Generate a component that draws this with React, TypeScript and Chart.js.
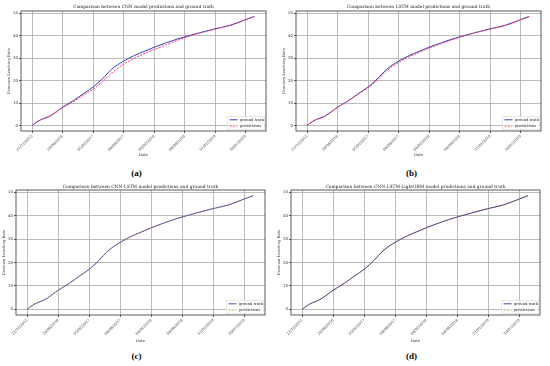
import React, { useEffect, useRef } from "react";
import { Chart, registerables } from "chart.js";
Chart.register(...registerables);

const tickLabels = ["21/12/2015", "20/06/2016", "05/02/2017", "06/08/2017", "04/02/2018", "04/08/2018", "31/01/2019", "30/07/2019"];
const tickPositions = [0, 1, 2, 3, 4, 5, 6, 7];
const yTicks = [0, 10, 20, 30, 40, 50];

const xPos = [0, 0.2, 0.6, 1.0, 1.35, 1.7, 2.0, 2.3, 2.6, 3.0, 3.35, 3.7, 4.0, 4.4, 4.75, 5.0, 5.45, 6.0, 6.5, 7.0, 7.28];
const groundTruth = [0, 2.0, 4.4, 8.2, 11.1, 14.4, 17.2, 20.8, 25.0, 28.7, 31.2, 33.2, 34.9, 36.9, 38.5, 39.5, 41.2, 43.1, 44.7, 47.2, 48.6];
const cnnPred = [0, 2.0, 4.3, 7.9, 10.7, 13.7, 16.2, 19.4, 23.3, 27.3, 30.0, 32.2, 33.9, 36.0, 37.9, 39.1, 41.0, 43.0, 44.7, 47.1, 48.6];
const lstmPred = [0, 2.0, 4.3, 8.1, 11.0, 14.2, 16.9, 20.2, 24.3, 28.1, 30.7, 32.8, 34.5, 36.5, 38.2, 39.3, 41.1, 43.0, 44.6, 47.1, 48.6];
const cnnLstmPred = [0, 2.0, 4.4, 8.2, 11.0, 14.3, 17.1, 20.7, 24.9, 28.6, 31.1, 33.1, 34.8, 36.8, 38.4, 39.5, 41.2, 43.1, 44.7, 47.2, 48.6];
const lgbmPred = [0, 2.0, 4.4, 8.2, 11.1, 14.4, 17.2, 20.8, 25.0, 28.7, 31.2, 33.2, 34.9, 36.9, 38.5, 39.5, 41.2, 43.1, 44.7, 47.2, 48.6];

const panels = [
  { key: "a", title: "Comparison between CNN model predictions and ground truth", pred: cnnPred, gtColor: "#2f3fc4", predColor: "#ff3a6a", left: 0, top: 0, padLeft: 7, plotLeft: 21, plotRight: 266, plotTop: 11, plotBottom: 131, titleCenter: 7, dateY: 155 },
  { key: "b", title: "Comparison between LSTM model predictions and ground truth", pred: lstmPred, gtColor: "#2f3fc4", predColor: "#ff3a6a", left: 275, top: 0, padLeft: 7, plotLeft: 21, plotRight: 266, plotTop: 11, plotBottom: 131, titleCenter: 7, dateY: 155 },
  { key: "c", title: "Comparison between CNN-LSTM model predictions and ground truth", pred: cnnLstmPred, gtColor: "#6a4fa6", predColor: "#c8b25a", left: 0, top: 183, padLeft: 2, plotLeft: 16, plotRight: 265, plotTop: 7, plotBottom: 132, titleCenter: 3.5, dateY: 158 },
  { key: "d", title: "Comparison between CNN-LSTM-LightGBM model predictions and ground truth", pred: lgbmPred, gtColor: "#5e3f86", predColor: "#b8a878", left: 275, top: 183, padLeft: 2, plotLeft: 16, plotRight: 265, plotTop: 7, plotBottom: 132, titleCenter: 3.5, dateY: 158 },
];

const FONT = "'DejaVu Serif', serif";
const CW = 275;
const CH = 165;

const framePlugin = {
  id: "frame",
  afterDraw(chart: any) {
    const { ctx, chartArea: a } = chart;
    ctx.save();
    ctx.strokeStyle = "#333";
    ctx.lineWidth = 0.8;
    ctx.strokeRect(a.left, a.top, a.right - a.left, a.bottom - a.top);
    ctx.restore();
  },
};

const legendPlugin = {
  id: "boxLegend",
  afterDraw(chart: any) {
    const { ctx, chartArea: a } = chart;
    const w = 37, h = 13;
    const x = a.right - w - 1.5, y = a.bottom - h - 1.5;
    ctx.save();
    ctx.fillStyle = "rgba(255,255,255,0.85)";
    ctx.strokeStyle = "#d8d8d8";
    ctx.lineWidth = 0.6;
    ctx.fillRect(x, y, w, h);
    ctx.strokeRect(x, y, w, h);
    ctx.font = `3.7px ${FONT}`;
    ctx.textBaseline = "middle";
    const ds = chart.data.datasets;
    [0, 1].forEach((i) => {
      const d = ds[i];
      const ry = y + 3.3 + i * 6.2;
      ctx.strokeStyle = d.borderColor;
      ctx.lineWidth = 1;
      ctx.setLineDash(d.borderDash || []);
      ctx.beginPath();
      ctx.moveTo(x + 2, ry);
      ctx.lineTo(x + 10, ry);
      ctx.stroke();
      ctx.setLineDash([]);
      ctx.fillStyle = "#222";
      ctx.fillText(d.label, x + 12.5, ry);
    });
    ctx.restore();
  },
};

function Panel({ p }: { p: any }) {
  const ref = useRef<HTMLCanvasElement>(null);
  useEffect(() => {
    if (!ref.current) return;
    const titleSize = 4.4;
    const titleLH = titleSize * 1.2;
    const padTop = Math.max(0, p.titleCenter - titleLH / 2);
    const padBottom = Math.max(0, p.plotTop - padTop - titleLH);
    const layoutBottom = CH - (p.dateY + 2.5);
    const chart = new Chart(ref.current, {
      type: "line",
      data: {
        datasets: [
          {
            label: "ground truth",
            data: xPos.map((x, i) => ({ x, y: groundTruth[i] })),
            borderColor: p.gtColor,
            borderWidth: 1,
            pointRadius: 0,
            cubicInterpolationMode: "monotone",
            order: 1,
          },
          {
            label: "predictions",
            data: xPos.map((x, i) => ({ x, y: p.pred[i] })),
            borderColor: p.predColor,
            borderWidth: 1,
            borderDash: [2.2, 1.2],
            pointRadius: 0,
            cubicInterpolationMode: "monotone",
            order: p.key === "a" || p.key === "b" ? 0 : 2,
          },
        ],
      },
      options: {
        responsive: false,
        animation: false,
        layout: { padding: { left: p.padLeft, right: CW - p.plotRight, top: 0, bottom: layoutBottom } },
        plugins: {
          legend: { display: false },
          tooltip: { enabled: false },
          title: {
            display: true,
            text: p.title,
            fullSize: false,
            color: "#222",
            font: { family: FONT, size: titleSize, weight: "normal", lineHeight: 1.2 },
            padding: { top: padTop, bottom: padBottom },
          },
        },
        scales: {
          x: {
            type: "linear",
            min: -0.365,
            max: 7.665,
            afterBuildTicks: (s: any) => { s.ticks = tickPositions.map((v) => ({ value: v })); },
            afterFit: (s: any) => { s.height = p.dateY + 2.5 - p.plotBottom; },
            ticks: {
              autoSkip: false,
              maxRotation: 45,
              minRotation: 45,
              color: "#333",
              padding: 1,
              font: { family: FONT, size: 3.7 },
              callback: (v: any) => tickLabels[tickPositions.indexOf(Number(v))] ?? "",
            },
            grid: { color: "#aaaaaa", lineWidth: 0.8, tickLength: 2, tickColor: "#333" },
            border: { display: false },
            title: { display: true, text: "Date", color: "#333", font: { family: FONT, size: 3.9 }, padding: 0 },
          },
          y: {
            type: "linear",
            min: -2.43,
            max: 51.03,
            afterBuildTicks: (s: any) => { s.ticks = yTicks.map((v) => ({ value: v })); },
            afterFit: (s: any) => { s.width = p.plotLeft - p.padLeft; },
            ticks: { color: "#333", padding: 1, font: { family: FONT, size: 3.9 } },
            grid: { color: "#aaaaaa", lineWidth: 0.8, tickLength: 2, tickColor: "#333" },
            border: { display: false },
            title: { display: true, text: "Uranium Leaching Rate", color: "#333", font: { family: FONT, size: 3.8 }, padding: 0 },
          },
        },
      },
      plugins: [framePlugin, legendPlugin],
    } as any);
    return () => chart.destroy();
  }, [p]);
  return (
    <div style={{ position: "absolute", left: p.left, top: p.top, width: CW, height: 183 }}>
      <canvas ref={ref} width={CW} height={CH} style={{ position: "absolute", left: 0, top: 0, width: CW, height: CH }} />
      <div
        style={{
          position: "absolute",
          left: 0,
          width: CW - 2,
          top: 166,
          textAlign: "center",
          fontFamily: "'Liberation Serif', serif",
          fontWeight: "bold",
          fontSize: 9,
          lineHeight: "14px",
          color: "#000",
        }}
      >
        ({p.key})
      </div>
    </div>
  );
}

export default function App() {
  return (
    <div style={{ position: "fixed", left: 0, top: 0, width: 550, height: 366, background: "#fff", overflow: "hidden" }}>
      {panels.map((p) => (
        <Panel key={p.key} p={p} />
      ))}
    </div>
  );
}
